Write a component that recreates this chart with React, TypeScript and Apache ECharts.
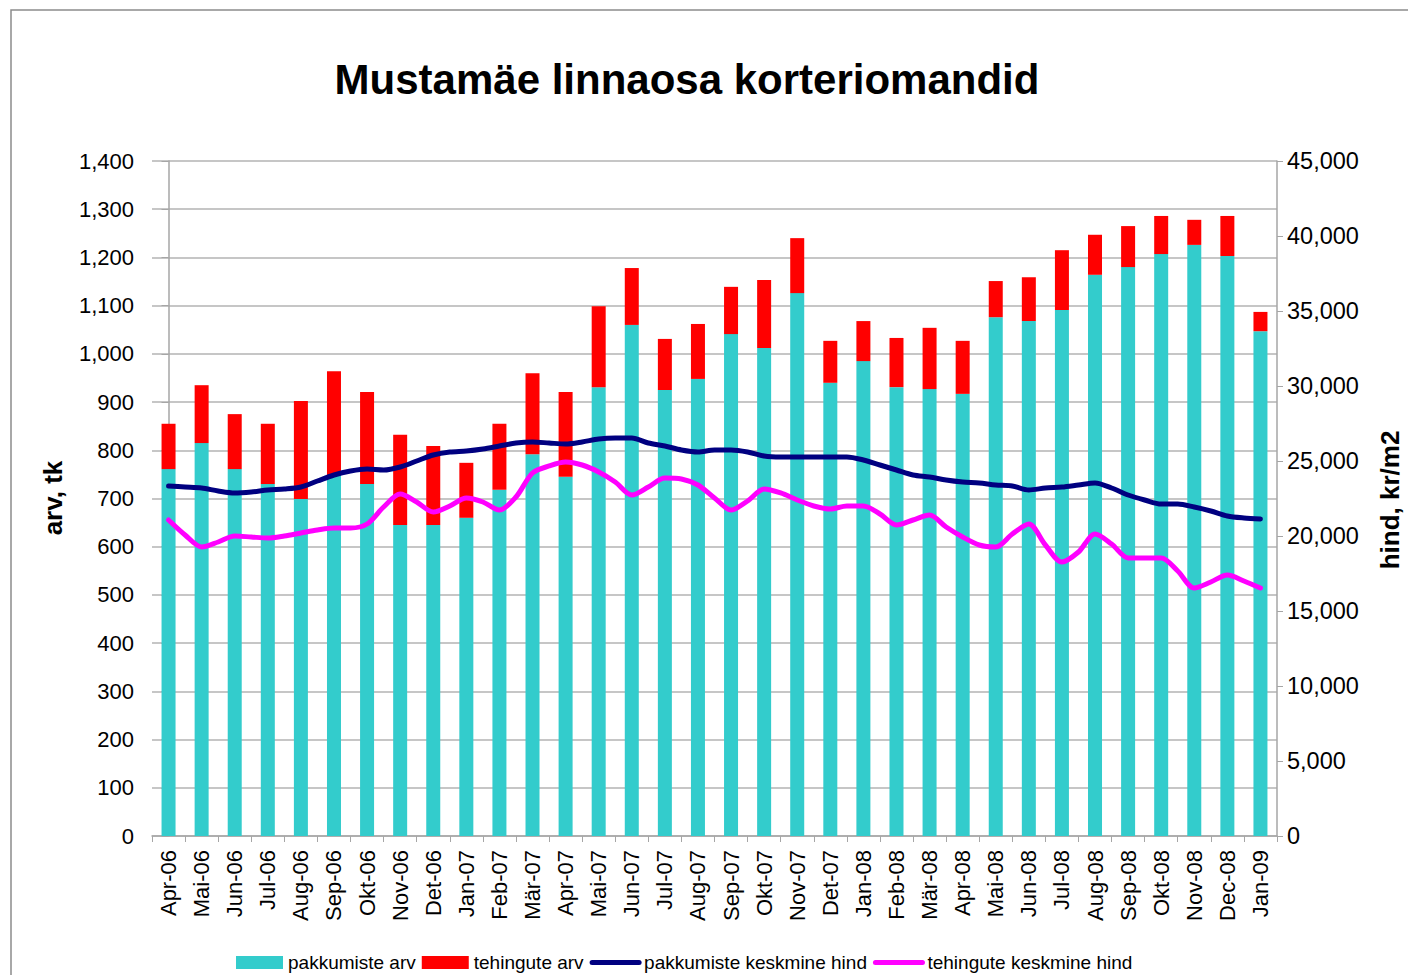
import { useEffect, useRef } from "react";
import * as echarts from "echarts";

const months = [
  "Apr-06", "Mai-06", "Jun-06", "Jul-06", "Aug-06", "Sep-06", "Okt-06", "Nov-06", "Det-06",
  "Jan-07", "Feb-07", "Mär-07", "Apr-07", "Mai-07", "Jun-07", "Jul-07", "Aug-07", "Sep-07",
  "Okt-07", "Nov-07", "Det-07", "Jan-08", "Feb-08", "Mär-08", "Apr-08", "Mai-08", "Jun-08",
  "Jul-08", "Aug-08", "Sep-08", "Okt-08", "Nov-08", "Dec-08", "Jan-09",
];

const pakkumisteArv = [
  761, 815, 761, 730, 699, 749, 730, 645, 645, 660, 718, 792, 745, 931, 1060, 925, 948,
  1041, 1012, 1126, 940, 985, 931, 927, 917, 1076, 1068, 1091, 1164, 1180, 1207, 1226,
  1203, 1047,
];

const tehinguteArv = [
  94, 120, 114, 125, 203, 215, 191, 187, 164, 114, 137, 168, 176, 168, 118, 106, 114, 98,
  141, 114, 87, 83, 102, 127, 110, 75, 91, 124, 83, 85, 79, 52, 83, 40,
];

// half-month resolution price readings (kr/m2), starting at Apr-06
const pakkumisteHind = [
  23333, 23267, 23200, 23000, 22867, 22933, 23067, 23133, 23267, 23667,
  24067, 24333, 24467, 24400, 24600, 25000, 25400, 25600, 25667, 25800,
  26000, 26200, 26267, 26200, 26133, 26267, 26467, 26533, 26533, 26200,
  26000, 25733, 25600, 25733, 25733, 25600, 25333, 25267, 25267, 25267,
  25267, 25267, 25067, 24733, 24400, 24067, 23933, 23733, 23600, 23533,
  23400, 23333, 23067, 23200, 23267, 23400, 23533, 23200, 22733, 22400,
  22133, 22133, 21933, 21667, 21333, 21200, 21133,
];

const tehinguteHind = [
  21067, 20067, 19267, 19600, 20000, 19933, 19867, 20000, 20200, 20400,
  20533, 20533, 20800, 21933, 22800, 22267, 21600, 22000, 22533, 22267,
  21733, 22600, 24200, 24667, 24933, 24733, 24267, 23600, 22733, 23267,
  23867, 23800, 23400, 22533, 21733, 22333, 23133, 22867, 22400, 22000,
  21800, 22000, 22000, 21467, 20733, 21067, 21400, 20600, 19933, 19400,
  19267, 20133, 20800, 19400, 18267, 18933, 20133, 19467, 18533, 18533,
  18533, 17667, 16533, 16933, 17400, 17000, 16533,
];

const FONT = '"Liberation Sans", Arial, sans-serif';
const fmt = (v: number) => v.toLocaleString("en-US");
const toPairs = (arr: number[]) => arr.map((v, i) => [i / 2, v]);

export default function App() {
  const ref = useRef<HTMLDivElement>(null);
  useEffect(() => {
    const chart = echarts.init(ref.current!, null, { renderer: "svg" });
    const gray = "#a6a6a6";
    chart.setOption({
      animation: false,
      backgroundColor: "#fff",
      textStyle: { fontFamily: FONT },
      title: {
        text: "Mustamäe linnaosa korteriomandid",
        left: 682,
        top: 53,
        textAlign: "center",
        textStyle: { fontFamily: FONT, fontSize: 42, fontWeight: "bold", color: "#000" },
      },
      legend: {
        left: 231,
        top: 948,
        itemWidth: 47,
        itemHeight: 13,
        itemGap: 6,
        textStyle: { fontFamily: FONT, fontSize: 19, color: "#000" },
        data: [
          { name: "pakkumiste arv", icon: "rect" },
          { name: "tehingute arv", icon: "rect" },
          {
            name: "pakkumiste keskmine hind",
            itemStyle: { opacity: 0 },
            lineStyle: { width: 5, cap: "round" },
          },
          {
            name: "tehingute keskmine hind",
            itemStyle: { opacity: 0 },
            lineStyle: { width: 5, cap: "round" },
          },
        ],
      },
      grid: { left: 152, right: 131, top: 161, bottom: 139, containLabel: false },
      xAxis: [
        {
          type: "category",
          data: months,
          boundaryGap: true,
          axisLine: { lineStyle: { color: gray, width: 1.5 } },
          axisTick: { show: true, length: 6, interval: 0, lineStyle: { color: gray } },
          axisLabel: {
            rotate: 90,
            interval: 0,
            margin: 14,
            fontSize: 22,
            fontFamily: FONT,
            color: "#000",
          },
        },
        { type: "value", min: -0.5, max: 33.5, show: false },
      ],
      yAxis: [
        {
          type: "value",
          min: 0,
          max: 1400,
          interval: 100,
          axisLine: { show: true, lineStyle: { color: gray, width: 1.5 } },
          axisTick: { show: true, length: 7, lineStyle: { color: gray } },
          splitLine: { show: true, lineStyle: { color: "#b3b3b3", width: 1.5 } },
          axisLabel: { fontSize: 22, fontFamily: FONT, color: "#000", margin: 18, formatter: fmt },
        },
        {
          type: "value",
          position: "right",
          min: 0,
          max: 45000,
          interval: 5000,
          axisLine: { show: true, lineStyle: { color: gray, width: 1.5 } },
          axisTick: { show: true, length: 6, lineStyle: { color: gray } },
          splitLine: { show: false },
          axisLabel: { fontSize: 23.5, fontFamily: FONT, color: "#000", margin: 10, formatter: fmt },
        },
      ],
      graphic: [
        {
          type: "rect",
          shape: { x: 11, y: 10, width: 1420, height: 990 },
          style: { fill: "none", stroke: "#8c8c8c", lineWidth: 1.5 },
          silent: true,
        },
        {
          type: "text",
          x: 53,
          y: 498,
          rotation: Math.PI / 2,
          style: {
            text: "arv, tk",
            fontFamily: FONT,
            fontSize: 26,
            fontWeight: "bold",
            fill: "#000",
            align: "center",
            verticalAlign: "middle",
          },
        },
        {
          type: "text",
          x: 1390,
          y: 500,
          rotation: Math.PI / 2,
          style: {
            text: "hind, kr/m2",
            fontFamily: FONT,
            fontSize: 26,
            fontWeight: "bold",
            fill: "#000",
            align: "center",
            verticalAlign: "middle",
          },
        },
      ],
      series: [
        {
          name: "pakkumiste arv",
          type: "bar",
          stack: "arv",
          barWidth: 14,
          itemStyle: { color: "#33cccc" },
          data: pakkumisteArv,
        },
        {
          name: "tehingute arv",
          type: "bar",
          stack: "arv",
          barWidth: 14,
          itemStyle: { color: "#ff0000" },
          data: tehinguteArv,
        },
        {
          name: "pakkumiste keskmine hind",
          type: "line",
          xAxisIndex: 1,
          yAxisIndex: 1,
          symbol: "none",
          smooth: 0.3,
          itemStyle: { color: "#000080" },
          lineStyle: { color: "#000080", width: 5, cap: "round", join: "round" },
          data: toPairs(pakkumisteHind),
        },
        {
          name: "tehingute keskmine hind",
          type: "line",
          xAxisIndex: 1,
          yAxisIndex: 1,
          symbol: "none",
          smooth: 0.3,
          itemStyle: { color: "#ff00ff" },
          lineStyle: { color: "#ff00ff", width: 5, cap: "round", join: "round" },
          data: toPairs(tehinguteHind),
        },
      ],
    });
    return () => chart.dispose();
  }, []);
  return (
    <div
      ref={ref}
      style={{ position: "fixed", left: 0, top: 0, width: 1408, height: 975, background: "#fff" }}
    />
  );
}
